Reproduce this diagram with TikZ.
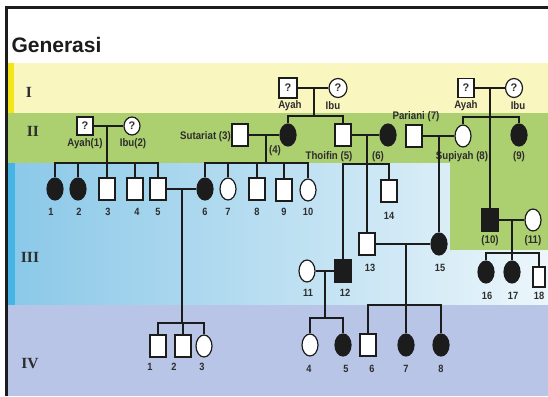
\documentclass[tikz,border=0pt]{standalone}
\usepackage{fontspec}
\setmainfont{Liberation Sans}
\newfontfamily\genfont{Liberation Serif}
\newfontfamily\lblfont[FakeStretch=0.88]{Liberation Sans}
\usetikzlibrary{shapes.geometric}
\definecolor{bandY}{RGB}{250,246,192}
\definecolor{stripY}{RGB}{242,230,20}
\definecolor{bandG}{RGB}{172,207,112}
\definecolor{blueL}{RGB}{138,200,232}
\definecolor{blueR}{RGB}{236,246,251}
\definecolor{stripB}{RGB}{70,180,228}
\definecolor{bandV}{RGB}{184,197,230}
\definecolor{ink}{RGB}{28,28,28}
\definecolor{txt}{RGB}{45,45,45}
\tikzset{
  sym/.style={draw=ink, line width=1.2pt, fill=white, inner sep=0pt, minimum width=16pt, minimum height=22pt},
  male/.style={sym, rectangle},
  female/.style={sym, ellipse},
  aff/.style={fill=ink},
  qsym/.style={font=\bfseries\fontsize{11}{11}\selectfont, text=txt},
  lbl/.style={font=\lblfont\bfseries\fontsize{11}{11}\selectfont, text=txt, inner sep=0pt},
  num/.style={font=\lblfont\bfseries\fontsize{10.5}{10.5}\selectfont, text=txt, inner sep=0pt},
  gen/.style={font=\genfont\bfseries\fontsize{15.5}{15.5}\selectfont, text=txt, inner sep=0pt},
  ln/.style={draw=ink, line width=1.1pt}
}
\begin{document}
\begin{tikzpicture}[x=1pt, y=-1pt]
\useasboundingbox (0,0) rectangle (548,396);
% backgrounds
\fill[white] (0,0) rectangle (548,396);
\fill[bandY] (8,63) rectangle (548,113);
\fill[stripY] (8,63) rectangle (14,113);
\fill[bandG] (8,113) rectangle (548,163);
\shade[left color=blueL, right color=blueR] (8,163) rectangle (548,305);
\fill[stripB] (8,163) rectangle (15,305);
\fill[bandG] (450,163) rectangle (548,250);
\fill[bandV] (8,305) rectangle (548,396);
\draw[line width=2.5pt, ink] (6.5,396) -- (6.5,7.5) -- (548,7.5);
\node[anchor=west, font=\bfseries\fontsize{21}{21}\selectfont, text=ink] (title) at (8,45) {Generasi};
% generation labels
\node[gen] (gI) at (29,92) {I};
\node[gen] (gII) at (33,131) {II};
\node[gen] (gIII) at (30,257) {III};
\node[gen] (gIV) at (30,364) {IV};

% Generation I
\node[male, qsym, minimum width=18pt, minimum height=20pt] (g1a) at (288,88) {?};
\node[female, qsym, minimum width=18pt, minimum height=19pt] (g1b) at (338,88) {?};
\node[lbl] (g1al) at (290,106) {Ayah};
\node[lbl] (g1bl) at (333,106) {Ibu};
\node[male, qsym, minimum width=16pt, minimum height=19pt] (g2a) at (466,88) {?};
\node[female, qsym, minimum width=17pt, minimum height=19pt] (g2b) at (514,88) {?};
\node[lbl] (g2al) at (466,106) {Ayah};
\node[lbl] (g2bl) at (518,106) {Ibu};

% Generation II
\node[male, qsym, minimum width=16pt, minimum height=18pt] (a1) at (85,126) {?};
\node[female, qsym, minimum width=16pt, minimum height=18pt] (a2) at (132,126) {?};
\node[lbl] (a1l) at (85,144) {Ayah(1)};
\node[lbl] (a2l) at (133,144) {Ibu(2)};
\node[male] (n3) at (240,135) {};
\node[lbl, anchor=east] (n3l) at (231,137) {Sutariat (3)};
\node[female, aff] (n4) at (288,135) {};
\node[lbl] (n4l) at (275,151) {(4)};
\node[male] (n5) at (343,135) {};
\node[lbl] (n5l) at (329,157) {Thoifin (5)};
\node[female, aff] (n6) at (388,135) {};
\node[lbl] (n6l) at (378,157) {(6)};
\node[male] (n7) at (414,136) {};
\node[lbl] (n7l) at (416,117) {Pariani (7)};
\node[female] (n8) at (463,136) {};
\node[lbl] (n8l) at (462,157) {Supiyah (8)};
\node[female, aff] (n9) at (519,135) {};
\node[lbl] (n9l) at (519,157) {(9)};

% Generation III
\node[female, aff] (c1) at (55,189) {};
\node[female, aff] (c2) at (78,189) {};
\node[male] (c3) at (107,189) {};
\node[male] (c4) at (135,189) {};
\node[male] (c5) at (158,189) {};
\node[female, aff] (c6) at (205,189) {};
\node[female] (c7) at (228,189) {};
\node[male] (c8) at (257,189) {};
\node[male] (c9) at (284,190) {};
\node[female] (c10) at (308,190) {};
\node[male] (c14) at (389,191) {};
\node[female] (c11) at (307,271) {};
\node[male, aff] (c12) at (343,271) {};
\node[male] (c13) at (367,244) {};
\node[female, aff] (c15) at (439,244) {};
\node[male, aff] (t10) at (490,220) {};
\node[female] (t11) at (533,220) {};
\node[female, aff] (t16) at (486,272) {};
\node[female, aff] (t17) at (512,272) {};
\node[male, minimum width=12pt, minimum height=20pt] (t18) at (539,277) {};
\foreach \n/\x/\t in {l1/51/1, l2/79/2, l3/108/3, l4/137/4, l5/158/5, l6/205/6, l7/228/7, l8/257/8, l9/284/9, l10/308/10}
  \node[num] (\n) at (\x,212) {\t};
\node[num] (l14) at (389,216) {14};
\node[num] (l11) at (308,293) {11};
\node[num] (l12) at (345,293) {12};
\node[num] (l13) at (370,268) {13};
\node[num] (l15) at (440,268) {15};
\node[lbl] (lt10) at (490,241) {(10)};
\node[lbl] (lt11) at (533,241) {(11)};
\node[num] (l16) at (487,296) {16};
\node[num] (l17) at (513,296) {17};
\node[num] (l18) at (539,296) {18};

% Generation IV
\node[male] (d1) at (158,346) {};
\node[male] (d2) at (183,346) {};
\node[female] (d3) at (204,346) {};
\node[female] (d4) at (310,345) {};
\node[female, aff] (d5) at (343,345) {};
\node[male] (d6) at (368,345) {};
\node[female, aff] (d7) at (406,345) {};
\node[female, aff] (d8) at (441,345) {};
\foreach \n/\x/\t in {e1/150/1, e2/174/2, e3/202/3}
  \node[num] (\n) at (\x,367) {\t};
\foreach \n/\x/\t in {e4/309/4, e5/346/5, e6/372/6, e7/406/7, e8/441/8}
  \node[num] (\n) at (\x,369) {\t};

% junction coordinates
\coordinate (m1) at (314,88);
\coordinate (s1) at (314,116);
\coordinate (m2) at (490,88);
\coordinate (s2) at (490,117);
\coordinate (m3) at (107,126);
\coordinate (s3) at (107,163);
\coordinate (m4) at (266,135);
\coordinate (s4) at (266,163);
\coordinate (m5) at (367,135);
\coordinate (s5) at (367,164);
\coordinate (m6) at (439,136);
\coordinate (m7) at (182,189);
\coordinate (s7) at (182,323);
\coordinate (m8) at (325,271);
\coordinate (s8) at (325,318);
\coordinate (m9) at (406,244);
\coordinate (s9) at (406,305);
\coordinate (m10) at (512,220);
\coordinate (s10) at (512,253);

% connectors
\begin{scope}[ln]
\draw (g1a) -- (g1b);
\draw (m1) -- (s1);
\draw (n4) |- (s1) -| (n5);
\draw (g2a) -- (g2b);
\draw (m2) -- (t10);
\draw (n8) |- (s2) -| (n9);
\draw (a1) -- (a2);
\draw (m3) -- (c3);
\draw (c1) |- (s3) -| (c5);
\draw (c2) -- (c2 |- s3);
\draw (c4) -- (c4 |- s3);
\draw (n3) -- (n4);
\draw (m4) -- (s4);
\draw (c6) |- (s4) -| (c10);
\draw (c7) -- (c7 |- s4);
\draw (c8) -- (c8 |- s4);
\draw (c9) -- (c9 |- s4);
\draw (n5) -- (n6);
\draw (m5) -- (c13);
\draw (c12) |- (s5) -| (c14);
\draw (n7) -- (n8);
\draw (m6) -- (c15);
\draw (c5) -- (c6);
\draw (m7) -- (s7);
\draw (d1) |- (s7) -| (d3);
\draw (d2) -- (d2 |- s7);
\draw (c11) -- (c12);
\draw (m8) -- (s8);
\draw (d4) |- (s8) -| (d5);
\draw (c13) -- (c15);
\draw (m9) -- (d7);
\draw (d6) |- (s9) -| (d8);
\draw (t10) -- (t11);
\draw (m10) -- (t17);
\draw (t16) |- (s10) -| (t18);
\end{scope}
\end{tikzpicture}
\end{document}
